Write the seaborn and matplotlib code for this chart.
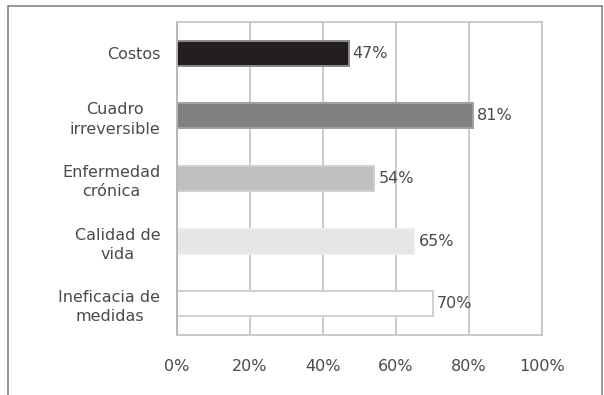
import matplotlib
matplotlib.use("Agg")
import matplotlib.pyplot as plt
from matplotlib.lines import Line2D
import seaborn as sns
import pandas as pd

# Motivos y porcentajes
categories = ["Costos", "Cuadro\nirreversible", "Enfermedad\ncrónica",
              "Calidad de\nvida", "Ineficacia de\nmedidas"]
values = [47, 81, 54, 65, 70]
bar_colors = ["#231f20", "#808083", "#c0c0c0", "#e6e6e8", "#ffffff"]
edge_colors = ["#8a8a8a", "#a0a0a0", "#d0d0d0", "#ececec", "#cfcfcf"]
xticks = [0, 20, 40, 60, 80, 100]
xtick_labels = ["0%", "20%", "40%", "60%", "80%", "100%"]

sns.set_theme(style="white")
plt.rcParams["font.family"] = ["DejaVu Sans"]

text_color = "#4a4a4a"
grid_color = "#c6c6c6"

df = pd.DataFrame({"motivo": categories, "pct": values})

fig = plt.figure(figsize=(6.04, 3.95), dpi=100)
ax = fig.add_axes([177 / 604, 1 - 335 / 395, (542 - 177) / 604, (335 - 22) / 395])

sns.barplot(data=df, x="pct", y="motivo", hue="motivo", palette=bar_colors,
            order=categories, hue_order=categories, orient="h",
            width=0.4, legend=False, ax=ax, saturation=1)

for patch, ec in zip(ax.patches, edge_colors):
    patch.set_edgecolor(ec)
    patch.set_linewidth(1.4)

for cont in ax.containers:
    ax.bar_label(cont, fmt="%d%%", padding=3, fontsize=11.5, color=text_color)

ax.set_xlim(0, 100)
ax.set_xticks(xticks)
ax.set_xticklabels(xtick_labels)
ax.set_xlabel("")
ax.set_ylabel("")

ax.xaxis.grid(True, color=grid_color, linewidth=1.3)
ax.yaxis.grid(False)
ax.set_axisbelow(True)
for side in ["left", "right", "top", "bottom"]:
    ax.spines[side].set_visible(True)
    ax.spines[side].set_color(grid_color)
    ax.spines[side].set_linewidth(1.3)
ax.spines["left"].set_color("#b4b4b4")

ax.tick_params(axis="x", length=0, pad=17, labelsize=11.5, labelcolor=text_color)
ax.tick_params(axis="y", length=0, pad=12, labelsize=11.5, labelcolor=text_color)
for lbl in ax.get_yticklabels():
    lbl.set_multialignment("center")
    lbl.set_linespacing(1.35)

# Marco exterior de la figura
W, H = 604, 395
frame_kw = dict(color="#7a7a7a", linewidth=1.1, transform=fig.transFigure)
fig.add_artist(Line2D([8 / W, 602 / W], [1 - 6 / H, 1 - 6 / H], **frame_kw))
fig.add_artist(Line2D([8 / W, 8 / W], [0, 1 - 6 / H], **frame_kw))
fig.add_artist(Line2D([602 / W, 602 / W], [0, 1 - 6 / H], **frame_kw))

fig.savefig("out.png", dpi=100)
